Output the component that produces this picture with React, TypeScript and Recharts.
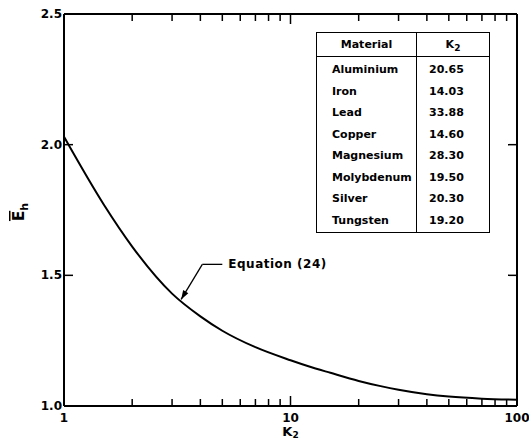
import { Line, LineChart, ReferenceDot, ReferenceLine, XAxis, YAxis } from "recharts";

// curve (log K2 axis)
const kValues = [1, 1.5, 2, 3, 4, 5, 7, 10, 12, 15, 20, 25, 30, 40, 50, 70, 100];
const ehValues = [2.03, 1.77, 1.61, 1.43, 1.343, 1.288, 1.225, 1.175, 1.152, 1.127, 1.096, 1.076, 1.062, 1.045, 1.036, 1.028, 1.024];

const xTicks = [1, 2, 3, 4, 5, 6, 7, 8, 9, 10, 20, 30, 40, 50, 60, 70, 80, 90, 100];
const xLabels = [1, 10, 100];
const yTicks = [1.0, 1.5, 2.0, 2.5];
const innerYTicks = [1.5, 2.0];

const materials = ["Aluminium", "Iron", "Lead", "Copper", "Magnesium", "Molybdenum", "Silver", "Tungsten"];
const k2Values = ["20.65", "14.03", "33.88", "14.60", "28.30", "19.50", "20.30", "19.20"];

// leader for "Equation (24)"
const leaderText = { x: 5.0, y: 1.542 };
const leaderBend = { x: 4.08, y: 1.542 };
const leaderTip = { x: 3.29, y: 1.408 };

const data = kValues.map((k, i) => ({ k, eh: ehValues[i] }));

const FONT = "'DejaVu Sans', sans-serif";
const WIDTH = 529;
const HEIGHT = 442;
const MARGIN = { top: 14, right: 12, bottom: 6, left: 0 };
const PLOT_TOP = MARGIN.top;
const PLOT_RIGHT = WIDTH - MARGIN.right;
const X_MIN = 1;
const X_MAX = 100;
const Y_MIN = 1;
const Y_MAX = 2.5;

// bottom tick also mirrors itself onto the top edge of the frame
function XTick({ x, y, payload }: any) {
  const v = payload.value;
  const major = xLabels.includes(v);
  const len = major ? 10 : 7;
  const inner = v !== X_MIN && v !== X_MAX;
  return (
    <g>
      {inner && <line x1={x} x2={x} y1={y} y2={y - len} stroke="#000" strokeWidth={1.5} />}
      {inner && <line x1={x} x2={x} y1={PLOT_TOP} y2={PLOT_TOP + len} stroke="#000" strokeWidth={1.5} />}
      {major && (
        <text x={x} y={y + 16} textAnchor="middle" fontFamily={FONT} fontWeight="bold" fontSize={12} fill="#000">
          {v}
        </text>
      )}
    </g>
  );
}

// left tick also mirrors itself onto the right edge
function YTick({ x, y, payload }: any) {
  const v = payload.value;
  const inner = innerYTicks.includes(v);
  return (
    <g>
      {inner && <line x1={x} x2={x + 9} y1={y} y2={y} stroke="#000" strokeWidth={1.5} />}
      {inner && <line x1={PLOT_RIGHT} x2={PLOT_RIGHT - 9} y1={y} y2={y} stroke="#000" strokeWidth={1.5} />}
      <text x={x - 2} y={y + 4} textAnchor="end" fontFamily={FONT} fontWeight="bold" fontSize={12} fill="#000">
        {v.toFixed(1)}
      </text>
    </g>
  );
}

function ArrowHead({ cx, cy }: any) {
  const dx = -0.51;
  const dy = 0.86;
  const L = 9;
  const W = 3;
  const bx = cx - dx * L;
  const by = cy - dy * L;
  const pts = `${cx},${cy} ${bx - dy * W},${by + dx * W} ${bx + dy * W},${by - dx * W}`;
  return <polygon points={pts} fill="#000" />;
}

function EqLabel({ cx, cy }: any) {
  return (
    <text x={cx + 6} y={cy + 4} fontFamily={FONT} fontWeight="bold" fontSize={12} fill="#000" letterSpacing={0.5}>
      Equation (24)
    </text>
  );
}

export default function App() {
  return (
    <div style={{ position: "absolute", left: 0, top: 0, width: WIDTH, height: HEIGHT, background: "#fff" }}>
      <LineChart width={WIDTH} height={HEIGHT} data={data} margin={MARGIN}>
        <XAxis
          dataKey="k"
          type="number"
          scale="log"
          domain={[X_MIN, X_MAX]}
          ticks={xTicks}
          interval={0}
          allowDataOverflow
          height={30}
          tickSize={0}
          tickMargin={0}
          tickLine={false}
          axisLine={{ stroke: "#000", strokeWidth: 2 }}
          tick={(p: any) => <XTick {...p} />}
          label={{
            content: ({ viewBox }: any) => (
              <text
                x={viewBox.x + viewBox.width / 2}
                y={436}
                textAnchor="middle"
                fontFamily={FONT}
                fontWeight="bold"
                fontSize={13}
                fill="#000"
              >
                K<tspan fontSize={9} dy={2}>2</tspan>
              </text>
            ),
          }}
        />
        <YAxis
          type="number"
          domain={[Y_MIN, Y_MAX]}
          ticks={yTicks}
          interval={0}
          allowDataOverflow
          width={64}
          tickSize={0}
          tickMargin={0}
          tickLine={false}
          axisLine={{ stroke: "#000", strokeWidth: 2 }}
          tick={(p: any) => <YTick {...p} />}
          label={{
            content: () => (
              <text
                transform="translate(24,212) rotate(-90)"
                textAnchor="middle"
                fontFamily={FONT}
                fontWeight="bold"
                fontSize={15}
                fill="#000"
              >
                <tspan style={{ textDecoration: "overline" }}>E</tspan>
                <tspan fontSize={11} dy={4}>h</tspan>
              </text>
            ),
          }}
        />
        {/* frame edges (top, right) */}
        <ReferenceLine segment={[{ x: X_MIN, y: Y_MAX }, { x: X_MAX, y: Y_MAX }]} stroke="#000" strokeWidth={2} />
        <ReferenceLine segment={[{ x: X_MAX, y: Y_MIN }, { x: X_MAX, y: Y_MAX }]} stroke="#000" strokeWidth={2} />
        <Line type="monotone" dataKey="eh" stroke="#000" strokeWidth={2} dot={false} isAnimationActive={false} />
        <ReferenceLine segment={[leaderText, leaderBend]} stroke="#000" strokeWidth={1.3} />
        <ReferenceLine segment={[leaderBend, leaderTip]} stroke="#000" strokeWidth={1.3} />
        <ReferenceDot x={leaderTip.x} y={leaderTip.y} shape={(p: any) => <ArrowHead {...p} />} />
        <ReferenceDot x={leaderText.x} y={leaderText.y} shape={(p: any) => <EqLabel {...p} />} />
      </LineChart>
      <div
        style={{
          position: "absolute",
          left: 316,
          top: 32,
          width: 174,
          height: 201,
          border: "1.5px solid #000",
          boxSizing: "border-box",
          fontFamily: FONT,
          fontWeight: "bold",
          fontSize: 11,
          color: "#000",
        }}
      >
        <div style={{ display: "flex", height: 23, borderBottom: "1.5px solid #000" }}>
          <div style={{ width: 99, borderRight: "1.5px solid #000", textAlign: "center", lineHeight: "23px" }}>
            Material
          </div>
          <div style={{ flex: 1, textAlign: "center", lineHeight: "23px" }}>
            K<sub style={{ fontSize: 9 }}>2</sub>
          </div>
        </div>
        <div style={{ display: "flex", height: 175 }}>
          <div style={{ width: 99, borderRight: "1.5px solid #000", paddingTop: 2 }}>
            {materials.map((m) => (
              <div key={m} style={{ height: 21.5, lineHeight: "21.5px", paddingLeft: 15 }}>
                {m}
              </div>
            ))}
          </div>
          <div style={{ flex: 1, paddingTop: 2 }}>
            {k2Values.map((v, i) => (
              <div key={i} style={{ height: 21.5, lineHeight: "21.5px", paddingLeft: 12 }}>
                {v}
              </div>
            ))}
          </div>
        </div>
      </div>
    </div>
  );
}
